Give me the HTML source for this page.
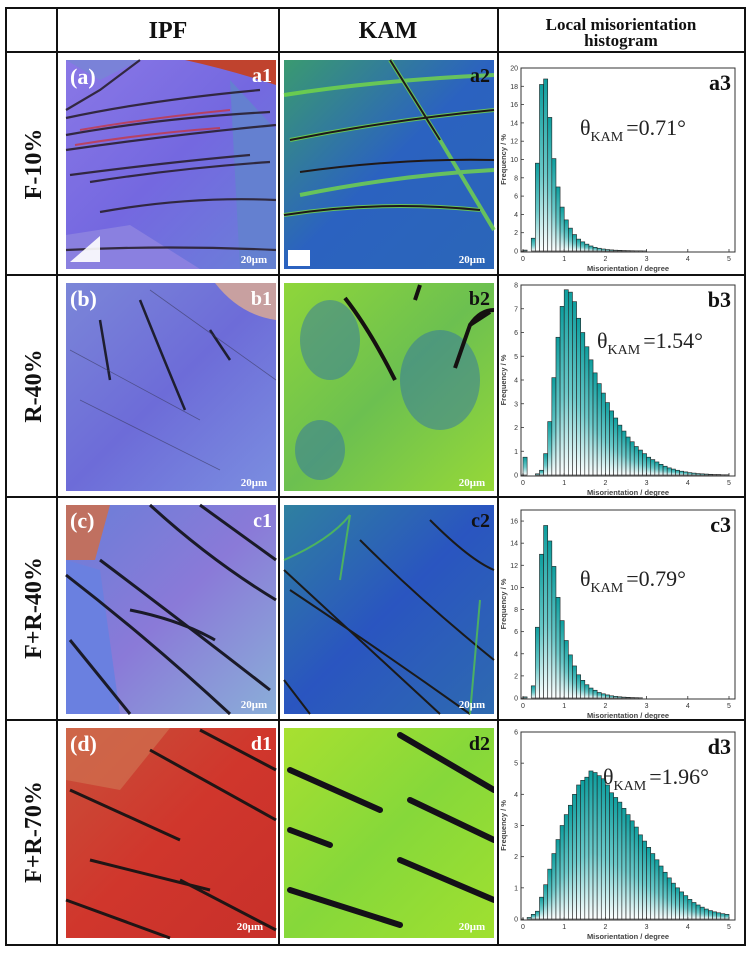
<!DOCTYPE html>
<html><head><meta charset="utf-8">
<style>
html,body{margin:0;padding:0;background:#fff;}
body{width:750px;height:954px;overflow:hidden;position:relative;font-family:"Liberation Serif",serif;}
svg{position:absolute;left:0;top:0;}
</style></head>
<body>
<svg id="fig" width="750" height="954" viewBox="0 0 750 954">
<defs>
  <linearGradient id="bar" x1="0" y1="0" x2="0" y2="1">
    <stop offset="0" stop-color="#0e9e9e"/><stop offset="0.55" stop-color="#6ccaca"/><stop offset="1" stop-color="#ffffff"/>
  </linearGradient>
  <linearGradient id="ipfA" x1="0" y1="0" x2="1" y2="1">
    <stop offset="0" stop-color="#8a78e6"/><stop offset="0.5" stop-color="#7468e0"/><stop offset="1" stop-color="#6a80d8"/>
  </linearGradient>
  <linearGradient id="ipfB" x1="0" y1="0" x2="1" y2="1">
    <stop offset="0" stop-color="#7b86d8"/><stop offset="0.5" stop-color="#6d6cd8"/><stop offset="1" stop-color="#7b8ee0"/>
  </linearGradient>
  <linearGradient id="ipfC" x1="0" y1="0" x2="1" y2="1">
    <stop offset="0" stop-color="#6a7ed8"/><stop offset="0.5" stop-color="#8a7ad8"/><stop offset="1" stop-color="#8aaed8"/>
  </linearGradient>
  <linearGradient id="ipfD" x1="0" y1="0" x2="1" y2="1">
    <stop offset="0" stop-color="#c8503a"/><stop offset="0.5" stop-color="#d0362c"/><stop offset="1" stop-color="#c8302a"/>
  </linearGradient>
  <linearGradient id="kamA" x1="0" y1="0" x2="1" y2="1">
    <stop offset="0" stop-color="#3a9a70"/><stop offset="0.5" stop-color="#2b62c0"/><stop offset="1" stop-color="#2b66b8"/>
  </linearGradient>
  <linearGradient id="kamB" x1="0" y1="0" x2="1" y2="1">
    <stop offset="0" stop-color="#8fd63a"/><stop offset="0.5" stop-color="#6cc050"/><stop offset="1" stop-color="#96d838"/>
  </linearGradient>
  <linearGradient id="kamC" x1="0" y1="0" x2="1" y2="1">
    <stop offset="0" stop-color="#2f80a0"/><stop offset="0.5" stop-color="#2a55c0"/><stop offset="1" stop-color="#2e6ab0"/>
  </linearGradient>
  <linearGradient id="kamD" x1="0" y1="0" x2="1" y2="1">
    <stop offset="0" stop-color="#a8e030"/><stop offset="0.5" stop-color="#86d83a"/><stop offset="1" stop-color="#a0e030"/>
  </linearGradient>
  <clipPath id="clipD2"><rect x="284" y="728" width="210" height="210"/></clipPath>
</defs>

<g stroke="#111" stroke-width="2" fill="none">
  <rect x="6" y="8" width="739" height="937"/>
  <line x1="57" y1="8" x2="57" y2="945"/>
  <line x1="279" y1="8" x2="279" y2="945"/>
  <line x1="498" y1="8" x2="498" y2="945"/>
  <line x1="6" y1="52" x2="745" y2="52"/>
  <line x1="6" y1="275" x2="745" y2="275"/>
  <line x1="6" y1="497" x2="745" y2="497"/>
  <line x1="6" y1="720" x2="745" y2="720"/>
</g>

<g font-family="Liberation Serif, serif" font-weight="bold" fill="#111" text-anchor="middle">
  <text x="168" y="38" font-size="24">IPF</text>
  <text x="388" y="38" font-size="24">KAM</text>
  <text x="621" y="30" font-size="17">Local misorientation</text>
  <text x="621" y="46" font-size="17">histogram</text>
  <text transform="translate(41,164) rotate(-90)" font-size="24">F-10%</text>
  <text transform="translate(41,386) rotate(-90)" font-size="24">R-40%</text>
  <text transform="translate(41,608) rotate(-90)" font-size="24">F+R-40%</text>
  <text transform="translate(41,832) rotate(-90)" font-size="24">F+R-70%</text>
</g>

<g>
  <rect x="66" y="60" width="210" height="209" fill="url(#ipfA)"/>
  <path d="M185 60 Q230 70 276 85 L276 60 Z" fill="#c0432e"/>
  <path d="M66 60 L140 60 L100 80 Z" fill="#7a82d8"/>
  <path d="M66 235 L130 225 L200 269 L66 269 Z" fill="#8a80e0"/>
  <path d="M230 80 L276 130 L276 269 L240 269 Z" fill="#6480d0"/>
  <g stroke="#2a2030" stroke-width="2.2" fill="none" opacity="0.9">
    <path d="M66 118 Q150 100 260 90"/><path d="M66 135 Q160 118 270 112"/>
    <path d="M66 150 Q170 135 276 125"/><path d="M70 175 Q170 162 250 155"/>
    <path d="M90 182 Q180 168 270 162"/><path d="M100 212 Q190 196 276 200"/>
    <path d="M66 250 Q170 245 276 250"/><path d="M140 60 L100 90 L66 110"/>
  </g>
  <g stroke="#d03030" stroke-width="2" fill="none" opacity="0.7">
    <path d="M80 130 Q150 118 230 110"/><path d="M75 145 Q150 133 220 128"/>
  </g>
  <polygon points="70,262 100,262 100,236" fill="#fff" opacity="0.9"/>
  <text x="70" y="84" font-size="22" font-weight="bold" fill="#fff" font-family="Liberation Serif, serif">(a)</text>
  <text x="272" y="82" font-size="20" font-weight="bold" fill="#fff" text-anchor="end" font-family="Liberation Serif, serif">a1</text>
  <text x="254" y="263" font-size="11" font-weight="bold" fill="#fff" text-anchor="middle" font-family="Liberation Serif, serif">20μm</text>
</g>

<g>
  <rect x="284" y="60" width="210" height="209" fill="url(#kamA)"/>
  <g stroke="#7ae040" stroke-width="4" fill="none" opacity="0.75">
    <path d="M284 95 Q380 80 494 75"/><path d="M290 140 Q390 120 494 110"/>
    <path d="M300 195 Q400 175 494 170"/><path d="M284 215 Q380 200 480 210"/>
    <path d="M390 60 L440 140 L494 230"/>
  </g>
  <g stroke="#201818" stroke-width="2" fill="none">
    <path d="M290 140 Q390 120 494 110"/><path d="M300 172 Q400 158 494 160"/>
    <path d="M284 215 Q380 200 480 210"/><path d="M390 60 L440 140"/>
  </g>
  <rect x="288" y="250" width="22" height="16" fill="#fff"/>
  <text x="490" y="82" font-size="20" font-weight="bold" fill="#111" text-anchor="end" font-family="Liberation Serif, serif">a2</text>
  <text x="472" y="263" font-size="11" font-weight="bold" fill="#fff" text-anchor="middle" font-family="Liberation Serif, serif">20μm</text>
</g>

<g>
  <rect x="66" y="283" width="210" height="208" fill="url(#ipfB)"/>
  <path d="M215 283 L276 283 L276 320 Q240 315 215 283 Z" fill="#c8a0a0"/>
  <g stroke="#1e1e30" stroke-width="2.5" fill="none">
    <path d="M140 300 Q160 350 185 410"/><path d="M210 330 L230 360"/>
    <path d="M100 320 L110 380"/>
  </g>
  <g stroke="#3a3a60" stroke-width="0.8" fill="none" opacity="0.6">
    <path d="M70 350 L200 420"/><path d="M80 400 L220 470"/><path d="M150 290 L276 380"/>
  </g>
  <text x="70" y="306" font-size="22" font-weight="bold" fill="#fff" font-family="Liberation Serif, serif">(b)</text>
  <text x="272" y="305" font-size="20" font-weight="bold" fill="#fff" text-anchor="end" font-family="Liberation Serif, serif">b1</text>
  <text x="254" y="486" font-size="11" font-weight="bold" fill="#fff" text-anchor="middle" font-family="Liberation Serif, serif">20μm</text>
</g>

<g>
  <rect x="284" y="283" width="210" height="208" fill="url(#kamB)"/>
  <g fill="#2a6ab0" opacity="0.45">
    <ellipse cx="330" cy="340" rx="30" ry="40"/><ellipse cx="440" cy="380" rx="40" ry="50"/>
    <ellipse cx="320" cy="450" rx="25" ry="30"/>
  </g>
  <g stroke="#151010" stroke-width="4" fill="none">
    <path d="M345 298 Q370 330 395 380"/><path d="M420 285 L415 300"/>
    <path d="M490 312 L470 325 L463 345 L455 368"/><path d="M470 325 Q480 310 494 310"/>
  </g>
  <text x="490" y="305" font-size="20" font-weight="bold" fill="#111" text-anchor="end" font-family="Liberation Serif, serif">b2</text>
  <text x="472" y="486" font-size="11" font-weight="bold" fill="#fff" text-anchor="middle" font-family="Liberation Serif, serif">20μm</text>
</g>

<g>
  <rect x="66" y="505" width="210" height="209" fill="url(#ipfC)"/>
  <path d="M66 505 L110 505 L95 560 L66 560 Z" fill="#c07060"/>
  <path d="M66 560 L100 570 L120 714 L66 714 Z" fill="#6a80e0"/>
  <g stroke="#1a1a28" stroke-width="3" fill="none">
    <path d="M66 575 Q150 640 230 714"/><path d="M100 560 Q180 620 270 690"/>
    <path d="M150 505 Q210 560 276 600"/><path d="M70 640 L130 714"/>
    <path d="M130 610 Q180 620 215 640"/><path d="M200 505 L276 560"/>
  </g>
  <text x="70" y="528" font-size="22" font-weight="bold" fill="#fff" font-family="Liberation Serif, serif">(c)</text>
  <text x="272" y="527" font-size="20" font-weight="bold" fill="#fff" text-anchor="end" font-family="Liberation Serif, serif">c1</text>
  <text x="254" y="708" font-size="11" font-weight="bold" fill="#fff" text-anchor="middle" font-family="Liberation Serif, serif">20μm</text>
</g>

<g>
  <rect x="284" y="505" width="210" height="209" fill="url(#kamC)"/>
  <g stroke="#1a1a1a" stroke-width="2" fill="none">
    <path d="M284 570 Q360 640 440 714"/><path d="M290 590 Q380 650 470 714"/>
    <path d="M360 540 Q420 600 494 660"/><path d="M430 520 Q470 560 494 570"/>
    <path d="M284 680 L310 714"/>
  </g>
  <g stroke="#5ad040" stroke-width="2" fill="none" opacity="0.7">
    <path d="M284 560 Q330 540 350 515"/><path d="M350 515 L340 580"/><path d="M480 600 L470 714"/>
  </g>
  <text x="490" y="527" font-size="20" font-weight="bold" fill="#111" text-anchor="end" font-family="Liberation Serif, serif">c2</text>
  <text x="472" y="708" font-size="11" font-weight="bold" fill="#fff" text-anchor="middle" font-family="Liberation Serif, serif">20μm</text>
</g>

<g>
  <rect x="66" y="728" width="210" height="210" fill="url(#ipfD)"/>
  <path d="M66 728 L170 728 L120 790 L66 780 Z" fill="#d07050" opacity="0.7"/>
  <g stroke="#201515" stroke-width="3" fill="none">
    <path d="M70 790 L180 840"/><path d="M150 750 L276 820"/><path d="M90 860 L210 890"/>
    <path d="M66 900 L170 938"/><path d="M200 730 L276 770"/><path d="M180 880 L276 930"/>
  </g>
  <text x="70" y="751" font-size="22" font-weight="bold" fill="#fff" font-family="Liberation Serif, serif">(d)</text>
  <text x="272" y="750" font-size="20" font-weight="bold" fill="#fff" text-anchor="end" font-family="Liberation Serif, serif">d1</text>
  <text x="250" y="930" font-size="11" font-weight="bold" fill="#fff" text-anchor="middle" font-family="Liberation Serif, serif">20μm</text>
</g>

<g clip-path="url(#clipD2)">
  <rect x="284" y="728" width="210" height="210" fill="url(#kamD)"/>
  <g stroke="#141018" stroke-width="6" fill="none" stroke-linecap="round">
    <path d="M290 770 L380 810"/><path d="M400 735 L494 790"/><path d="M410 800 L494 840"/>
    <path d="M290 830 L330 845"/><path d="M290 890 L400 925"/><path d="M400 860 L494 900"/>
  </g>
  <text x="490" y="750" font-size="20" font-weight="bold" fill="#111" text-anchor="end" font-family="Liberation Serif, serif">d2</text>
  <text x="472" y="930" font-size="11" font-weight="bold" fill="#fff" text-anchor="middle" font-family="Liberation Serif, serif">20μm</text>
</g>

<g id="charts"></g>
</svg>

<script>
const binsA = [0.0,0.1,0.2,0.3,0.4,0.5,0.6,0.7,0.8,0.9,1.0,1.1,1.2,1.3,1.4,1.5,1.6,1.7,1.8,1.9,2.0,2.1,2.2,2.3,2.4,2.5,2.6,2.7,2.8,2.9];
const freqA = [0.1,0,1.4,9.6,18.2,18.8,14.6,10.1,7.0,4.8,3.4,2.5,1.8,1.3,1.0,0.75,0.55,0.4,0.3,0.22,0.16,0.12,0.09,0.07,0.05,0.04,0.03,0.02,0.02,0.01];
const binsB = [0.0,0.1,0.2,0.3,0.4,0.5,0.6,0.7,0.8,0.9,1.0,1.1,1.2,1.3,1.4,1.5,1.6,1.7,1.8,1.9,2.0,2.1,2.2,2.3,2.4,2.5,2.6,2.7,2.8,2.9,3.0,3.1,3.2,3.3,3.4,3.5,3.6,3.7,3.8,3.9,4.0,4.1,4.2,4.3,4.4,4.5,4.6,4.7,4.8,4.9];
const freqB = [0.75,0,0,0.05,0.2,0.9,2.25,4.1,5.8,7.1,7.8,7.7,7.3,6.6,6.0,5.4,4.85,4.3,3.85,3.45,3.05,2.7,2.4,2.1,1.85,1.6,1.4,1.2,1.05,0.9,0.75,0.65,0.55,0.45,0.37,0.3,0.25,0.2,0.16,0.13,0.1,0.08,0.06,0.05,0.04,0.03,0.02,0.02,0.01,0.01];
const binsC = [0.0,0.1,0.2,0.3,0.4,0.5,0.6,0.7,0.8,0.9,1.0,1.1,1.2,1.3,1.4,1.5,1.6,1.7,1.8,1.9,2.0,2.1,2.2,2.3,2.4,2.5,2.6,2.7,2.8];
const freqC = [0.1,0,1.1,6.4,13.0,15.6,14.2,11.9,9.1,7.0,5.2,3.9,2.9,2.1,1.6,1.2,0.9,0.7,0.5,0.38,0.28,0.2,0.15,0.11,0.08,0.06,0.04,0.03,0.02];
const binsD = [0.1,0.2,0.3,0.4,0.5,0.6,0.7,0.8,0.9,1.0,1.1,1.2,1.3,1.4,1.5,1.6,1.7,1.8,1.9,2.0,2.1,2.2,2.3,2.4,2.5,2.6,2.7,2.8,2.9,3.0,3.1,3.2,3.3,3.4,3.5,3.6,3.7,3.8,3.9,4.0,4.1,4.2,4.3,4.4,4.5,4.6,4.7,4.8,4.9];
const freqD = [0.05,0.15,0.25,0.7,1.1,1.6,2.1,2.55,3.0,3.35,3.65,4.0,4.3,4.45,4.55,4.75,4.7,4.6,4.5,4.3,4.05,3.9,3.75,3.55,3.35,3.15,2.95,2.7,2.5,2.3,2.1,1.9,1.7,1.5,1.32,1.15,1.0,0.87,0.75,0.63,0.53,0.45,0.38,0.32,0.27,0.23,0.2,0.17,0.15];
const ticksA = [0,2,4,6,8,10,12,14,16,18,20];
const ticksB = [0,1,2,3,4,5,6,7,8];
const ticksC = [0,2,4,6,8,10,12,14,16];
const ticksD = [0,1,2,3,4,5,6];
const xTicks = [0,1,2,3,4,5];
const ymaxes = [20,8,17,6];
const panelLabels = ["a3","b3","c3","d3"];
const thetaValues = ["=0.71°","=1.54°","=0.79°","=1.96°"];

const NS = "http://www.w3.org/2000/svg";
const root = document.getElementById('charts');
function mk(tag, attrs, parent){ const e=document.createElementNS(NS,tag); for(const k in attrs) e.setAttribute(k,attrs[k]); parent.appendChild(e); return e; }

const layouts = [
  {top:68, bottom:251, thetaX:580, thetaY:135},
  {top:285, bottom:475, thetaX:597, thetaY:348},
  {top:510, bottom:698, thetaX:580, thetaY:586},
  {top:732, bottom:919, thetaX:603, thetaY:784}
];
const allBins=[binsA,binsB,binsC,binsD], allFreq=[freqA,freqB,freqC,freqD], allTicks=[ticksA,ticksB,ticksC,ticksD];

layouts.forEach((L,i)=>{
  const g = mk('g',{},root);
  
  
  const x0=523, x1=729, fl=521, fr=735;
  const xs = v => x0 + (x1-x0)*v/5;
  const ys = v => L.bottom - (L.bottom-L.top)*v/ymaxes[i];
  const bg = mk('g',{},g);
  
  
  allBins[i].forEach((b,j)=>{
    const v = allFreq[i][j];
    if(v<=0) return;
    const y = ys(v);
    const r = mk('rect',{x:xs(b),y:y,width:xs(b+0.1)-xs(b),height:L.bottom-y,fill:'url(#bar)',stroke:'#222','stroke-width':0.6},bg);
    
    
  });
  const fr_ = mk('rect',{x:fl,y:L.top,width:fr-fl,height:L.bottom-L.top+1,fill:'none',stroke:'#333','stroke-width':1},g);
  
  
  allTicks[i].forEach(t=>{
    const y=ys(t);
    mk('line',{x1:fl,x2:fl+3,y1:y,y2:y,stroke:'#333','stroke-width':0.8},g);
    const tx = mk('text',{x:fl-3,y:y+2.5,'font-size':7,'font-family':'Liberation Sans, sans-serif','text-anchor':'end',fill:'#333'},g);
    tx.textContent = t;
    
    
  });
  xTicks.forEach(t=>{
    const x=xs(t);
    mk('line',{x1:x,x2:x,y1:L.bottom+1,y2:L.bottom-2,stroke:'#333','stroke-width':0.8},g);
    const tx = mk('text',{x:x,y:L.bottom+10,'font-size':7,'font-family':'Liberation Sans, sans-serif','text-anchor':'middle',fill:'#333'},g);
    tx.textContent = t;
    
    
  });
  const xt = mk('text',{x:(fl+fr)/2,y:L.bottom+20,'font-size':7.5,'font-weight':'bold','font-family':'Liberation Sans, sans-serif','text-anchor':'middle',fill:'#444'},g);
  xt.textContent = 'Misorientation / degree';
  
  
  const yt = mk('text',{transform:`translate(506,${(L.top+L.bottom)/2}) rotate(-90)`,'font-size':7.5,'font-weight':'bold','font-family':'Liberation Sans, sans-serif','text-anchor':'middle',fill:'#444'},g);
  yt.textContent = 'Frequency / %';
  
  
  const pl = mk('text',{x:731,y:L.top+22,'font-size':22,'font-weight':'bold','font-family':'Liberation Serif, serif','text-anchor':'end',fill:'#111'},g);
  pl.textContent = panelLabels[i];
  
  
  const th = mk('text',{x:L.thetaX,y:L.thetaY,'font-size':22,'font-family':'Liberation Serif, serif',fill:'#222'},g);
  
  
  const t1 = mk('tspan',{},th); t1.textContent='θ';
  const t2 = mk('tspan',{'font-size':14,dy:6},th); t2.textContent='KAM';
  const t3 = mk('tspan',{dy:-6,dx:3},th); t3.textContent=thetaValues[i];
});
</script>
</body></html>
